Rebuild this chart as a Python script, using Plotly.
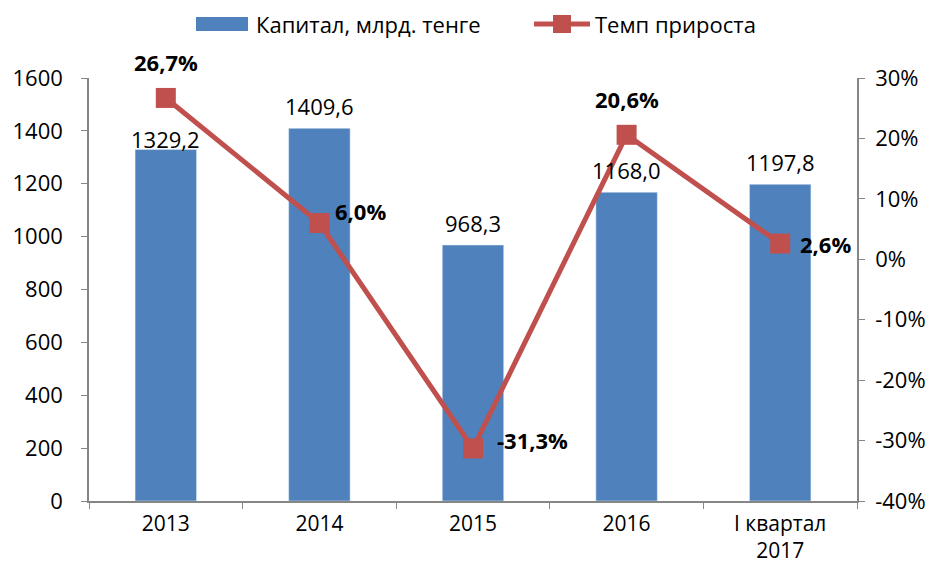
import plotly.graph_objects as go

categories = ["2013", "2014", "2015", "2016", "I квартал<br>2017"]
capital = [1329.2, 1409.6, 968.3, 1168.0, 1197.8]
growth = [26.7, 6.0, -31.3, 20.6, 2.6]
left_ticks = [0, 200, 400, 600, 800, 1000, 1200, 1400, 1600]
right_ticks = [-40, -30, -20, -10, 0, 10, 20, 30]
bar_name = "Капитал, млрд. тенге"
line_name = "Темп прироста"

FONT = "Open Sans"
FS = 22
BLUE = "#4F81BD"
RED = "#C0504D"
AXIS = "#868686"

# page offset of the default HTML body margin
OFF = 8
W, H = 939 - 2 * OFF, 575 - 2 * OFF
# plot area in page pixels: x 89..857, y 78..501
PX0, PX1, PY0, PY1 = 89, 857, 78, 501
L, R, T, B = PX0 - OFF, W + OFF - PX1, PY0 - OFF, H + OFF - PY1
PW, PH = PX1 - PX0, PY1 - PY0

def px(x):
    return (x - PX0) / PW

def py(y):
    return (PY1 - y) / PH

def fmt(v, d=1):
    return f"{v:.{d}f}".replace(".", ",")

fig = go.Figure()
fig.add_trace(go.Bar(
    x=categories, y=capital, name=bar_name,
    marker=dict(color=BLUE), width=0.4, yaxis="y", showlegend=False,
))
fig.add_trace(go.Scatter(
    x=categories, y=growth, name=line_name, yaxis="y2",
    mode="lines+markers", showlegend=False,
    line=dict(color=RED, width=5),
    marker=dict(symbol="square", size=20, color=RED),
))

# bar value labels
for i, v in enumerate(capital):
    fig.add_annotation(
        x=i, y=v, xref="x", yref="y", text=fmt(v), showarrow=False,
        yanchor="middle", yshift=11 if i == 0 else 22,
        font=dict(family=FONT, size=FS, color="black"),
    )

# line value labels: (xanchor, xshift, yshift)
line_pos = [("center", 0, 36), ("left", 14, 12), ("left", 22, 8), ("center", 0, 36), ("left", 18, 0)]
for i, g in enumerate(growth):
    xa, xs, ys = line_pos[i]
    fig.add_annotation(
        x=i, y=g, xref="x", yref="y2", text=f"<b>{fmt(g)}%</b>", showarrow=False,
        xanchor=xa, yanchor="middle", xshift=xs, yshift=ys,
        font=dict(family=FONT, size=FS, color="black"),
    )

# manual legend
fig.add_shape(type="rect", xref="paper", yref="paper",
              x0=px(196), x1=px(248), y0=py(31), y1=py(17),
              fillcolor=BLUE, line=dict(width=0))
fig.add_annotation(xref="paper", yref="paper", x=px(254), y=py(24), text=bar_name,
                   showarrow=False, xanchor="left", yanchor="middle",
                   font=dict(family=FONT, size=FS, color="black"))
fig.add_shape(type="line", xref="paper", yref="paper",
              x0=px(534), x1=px(590), y0=py(24), y1=py(24),
              line=dict(color=RED, width=5))
fig.add_shape(type="rect", xref="paper", yref="paper",
              x0=px(553), x1=px(571), y0=py(33), y1=py(15),
              fillcolor=RED, line=dict(width=0))
fig.add_annotation(xref="paper", yref="paper", x=px(593), y=py(24), text=line_name,
                   showarrow=False, xanchor="left", yanchor="middle",
                   font=dict(family=FONT, size=FS, color="black"))

fig.update_layout(
    width=W, height=H,
    margin=dict(l=L, r=R, t=T, b=B, autoexpand=False),
    paper_bgcolor="white", plot_bgcolor="white",
    font=dict(family=FONT, size=FS, color="black"),
    showlegend=False,
    xaxis=dict(
        type="category", range=[-0.5, 4.5], showline=True, linecolor=AXIS, linewidth=1.5,
        ticks="outside", tickson="boundaries", ticklen=6, tickcolor=AXIS,
        showgrid=False, tickfont=dict(family=FONT, size=21), tickangle=0, automargin=False,
        ticklabelstandoff=3,
    ),
    yaxis=dict(
        range=[0, 1600], tickvals=left_ticks, ticktext=[str(t) for t in left_ticks],
        showline=True, linecolor=AXIS, linewidth=1.5, ticks="outside", ticklen=6,
        tickcolor=AXIS, showgrid=False, zeroline=False, automargin=False,
        tickfont=dict(family=FONT, size=FS), ticklabelstandoff=14,
    ),
    yaxis2=dict(
        range=[-40, 30], overlaying="y", side="right",
        tickvals=right_ticks, ticktext=[f"{t}%" for t in right_ticks],
        showline=True, linecolor=AXIS, linewidth=1.5, ticks="outside", ticklen=6,
        tickcolor=AXIS, showgrid=False, zeroline=False, automargin=False,
        tickfont=dict(family=FONT, size=FS), ticklabelstandoff=6,
    ),
)

fig.write_html("out.html")
